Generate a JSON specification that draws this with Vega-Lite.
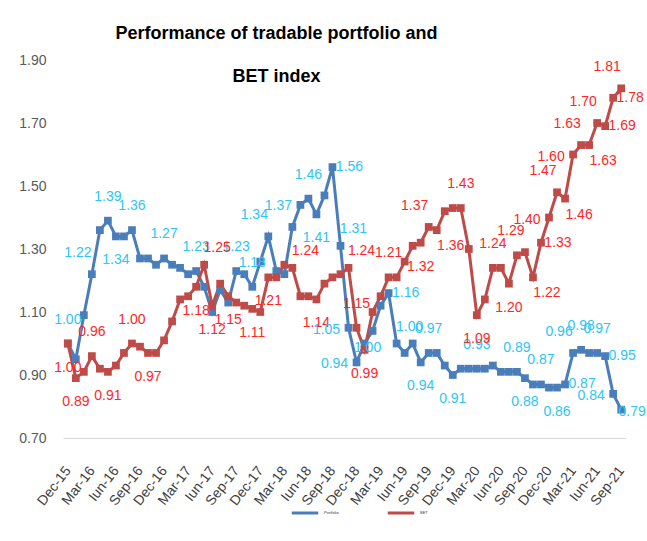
{
  "$schema": "https://vega.github.io/schema/vega-lite/v6.json",
  "width": 563,
  "height": 378,
  "autosize": {"type": "none"},
  "padding": {"left": 63, "top": 60, "right": 21, "bottom": 103},
  "background": "white",
  "config": {"view": {"stroke": null}},
  "title": {
    "text": ["Performance of tradable portfolio and", "BET index"],
    "font": "Liberation Sans",
    "fontWeight": "bold",
    "fontSize": 18,
    "color": "black",
    "lineHeight": 43,
    "anchor": "middle",
    "frame": "group",
    "dx": -68,
    "dy": 33,
    "offset": 0
  },
  "datasets": {
    "series": [
      {"month": "Dec-15", "series": "Portfolio", "value": 1.00, "label": "1.00"},
      {"month": "Ian-16", "series": "Portfolio", "value": 0.95},
      {"month": "Feb-16", "series": "Portfolio", "value": 1.09},
      {"month": "Mar-16", "series": "Portfolio", "value": 1.22, "label": "1.22"},
      {"month": "Apr-16", "series": "Portfolio", "value": 1.36},
      {"month": "Mai-16", "series": "Portfolio", "value": 1.39, "label": "1.39"},
      {"month": "Iun-16", "series": "Portfolio", "value": 1.34, "label": "1.34"},
      {"month": "Iul-16", "series": "Portfolio", "value": 1.34},
      {"month": "Aug-16", "series": "Portfolio", "value": 1.36, "label": "1.36"},
      {"month": "Sep-16", "series": "Portfolio", "value": 1.27},
      {"month": "Oct-16", "series": "Portfolio", "value": 1.27},
      {"month": "Noi-16", "series": "Portfolio", "value": 1.25},
      {"month": "Dec-16", "series": "Portfolio", "value": 1.27, "label": "1.27"},
      {"month": "Ian-17", "series": "Portfolio", "value": 1.25},
      {"month": "Feb-17", "series": "Portfolio", "value": 1.24},
      {"month": "Mar-17", "series": "Portfolio", "value": 1.22},
      {"month": "Apr-17", "series": "Portfolio", "value": 1.23, "label": "1.23"},
      {"month": "Mai-17", "series": "Portfolio", "value": 1.18},
      {"month": "Iun-17", "series": "Portfolio", "value": 1.10},
      {"month": "Iul-17", "series": "Portfolio", "value": 1.17},
      {"month": "Aug-17", "series": "Portfolio", "value": 1.13},
      {"month": "Sep-17", "series": "Portfolio", "value": 1.23, "label": "1.23"},
      {"month": "Oct-17", "series": "Portfolio", "value": 1.22},
      {"month": "Noi-17", "series": "Portfolio", "value": 1.18, "label": "1.18"},
      {"month": "Dec-17", "series": "Portfolio", "value": 1.26},
      {"month": "Ian-18", "series": "Portfolio", "value": 1.34, "label": "1.34"},
      {"month": "Feb-18", "series": "Portfolio", "value": 1.23},
      {"month": "Mar-18", "series": "Portfolio", "value": 1.22},
      {"month": "Apr-18", "series": "Portfolio", "value": 1.37, "label": "1.37"},
      {"month": "Mai-18", "series": "Portfolio", "value": 1.44},
      {"month": "Iun-18", "series": "Portfolio", "value": 1.46, "label": "1.46"},
      {"month": "Iul-18", "series": "Portfolio", "value": 1.41, "label": "1.41"},
      {"month": "Aug-18", "series": "Portfolio", "value": 1.47},
      {"month": "Sep-18", "series": "Portfolio", "value": 1.56, "label": "1.56"},
      {"month": "Oct-18", "series": "Portfolio", "value": 1.31, "label": "1.31"},
      {"month": "Noi-18", "series": "Portfolio", "value": 1.05, "label": "1.05"},
      {"month": "Dec-18", "series": "Portfolio", "value": 0.94, "label": "0.94"},
      {"month": "Ian-19", "series": "Portfolio", "value": 1.00, "label": "1.00"},
      {"month": "Feb-19", "series": "Portfolio", "value": 1.04},
      {"month": "Mar-19", "series": "Portfolio", "value": 1.12},
      {"month": "Apr-19", "series": "Portfolio", "value": 1.16, "label": "1.16"},
      {"month": "Mai-19", "series": "Portfolio", "value": 1.00, "label": "1.00"},
      {"month": "Iun-19", "series": "Portfolio", "value": 0.97},
      {"month": "Iul-19", "series": "Portfolio", "value": 1.00},
      {"month": "Aug-19", "series": "Portfolio", "value": 0.94, "label": "0.94"},
      {"month": "Sep-19", "series": "Portfolio", "value": 0.97, "label": "0.97"},
      {"month": "Oct-19", "series": "Portfolio", "value": 0.97},
      {"month": "Noi-19", "series": "Portfolio", "value": 0.93},
      {"month": "Dec-19", "series": "Portfolio", "value": 0.90, "label": "0.91"},
      {"month": "Ian-20", "series": "Portfolio", "value": 0.92},
      {"month": "Feb-20", "series": "Portfolio", "value": 0.92},
      {"month": "Mar-20", "series": "Portfolio", "value": 0.92, "label": "0.93"},
      {"month": "Apr-20", "series": "Portfolio", "value": 0.92},
      {"month": "Mai-20", "series": "Portfolio", "value": 0.93},
      {"month": "Iun-20", "series": "Portfolio", "value": 0.91},
      {"month": "Iul-20", "series": "Portfolio", "value": 0.91},
      {"month": "Aug-20", "series": "Portfolio", "value": 0.91, "label": "0.89"},
      {"month": "Sep-20", "series": "Portfolio", "value": 0.89, "label": "0.88"},
      {"month": "Oct-20", "series": "Portfolio", "value": 0.87},
      {"month": "Noi-20", "series": "Portfolio", "value": 0.87, "label": "0.87"},
      {"month": "Dec-20", "series": "Portfolio", "value": 0.86},
      {"month": "Ian-21", "series": "Portfolio", "value": 0.86, "label": "0.86"},
      {"month": "Feb-21", "series": "Portfolio", "value": 0.87, "label": "0.87"},
      {"month": "Mar-21", "series": "Portfolio", "value": 0.97, "label": "0.96"},
      {"month": "Apr-21", "series": "Portfolio", "value": 0.98, "label": "0.98"},
      {"month": "Mai-21", "series": "Portfolio", "value": 0.97},
      {"month": "Iun-21", "series": "Portfolio", "value": 0.97, "label": "0.97"},
      {"month": "Iul-21", "series": "Portfolio", "value": 0.96, "label": "0.95"},
      {"month": "Aug-21", "series": "Portfolio", "value": 0.84, "label": "0.84"},
      {"month": "Sep-21", "series": "Portfolio", "value": 0.79, "label": "0.79"},
      {"month": "Dec-15", "series": "BET", "value": 1.00, "label": "1.00"},
      {"month": "Ian-16", "series": "BET", "value": 0.89, "label": "0.89"},
      {"month": "Feb-16", "series": "BET", "value": 0.91},
      {"month": "Mar-16", "series": "BET", "value": 0.96, "label": "0.96"},
      {"month": "Apr-16", "series": "BET", "value": 0.92},
      {"month": "Mai-16", "series": "BET", "value": 0.91, "label": "0.91"},
      {"month": "Iun-16", "series": "BET", "value": 0.93},
      {"month": "Iul-16", "series": "BET", "value": 0.97},
      {"month": "Aug-16", "series": "BET", "value": 1.00, "label": "1.00"},
      {"month": "Sep-16", "series": "BET", "value": 0.99},
      {"month": "Oct-16", "series": "BET", "value": 0.97, "label": "0.97"},
      {"month": "Noi-16", "series": "BET", "value": 0.97},
      {"month": "Dec-16", "series": "BET", "value": 1.01},
      {"month": "Ian-17", "series": "BET", "value": 1.07},
      {"month": "Feb-17", "series": "BET", "value": 1.14},
      {"month": "Mar-17", "series": "BET", "value": 1.15},
      {"month": "Apr-17", "series": "BET", "value": 1.18, "label": "1.18"},
      {"month": "Mai-17", "series": "BET", "value": 1.25, "label": "1.25"},
      {"month": "Iun-17", "series": "BET", "value": 1.12, "label": "1.12"},
      {"month": "Iul-17", "series": "BET", "value": 1.19},
      {"month": "Aug-17", "series": "BET", "value": 1.15, "label": "1.15"},
      {"month": "Sep-17", "series": "BET", "value": 1.13},
      {"month": "Oct-17", "series": "BET", "value": 1.12},
      {"month": "Noi-17", "series": "BET", "value": 1.11, "label": "1.11"},
      {"month": "Dec-17", "series": "BET", "value": 1.10},
      {"month": "Ian-18", "series": "BET", "value": 1.21, "label": "1.21"},
      {"month": "Feb-18", "series": "BET", "value": 1.21},
      {"month": "Mar-18", "series": "BET", "value": 1.25},
      {"month": "Apr-18", "series": "BET", "value": 1.24, "label": "1.24"},
      {"month": "Mai-18", "series": "BET", "value": 1.15},
      {"month": "Iun-18", "series": "BET", "value": 1.15},
      {"month": "Iul-18", "series": "BET", "value": 1.14, "label": "1.14"},
      {"month": "Aug-18", "series": "BET", "value": 1.19},
      {"month": "Sep-18", "series": "BET", "value": 1.21},
      {"month": "Oct-18", "series": "BET", "value": 1.22},
      {"month": "Noi-18", "series": "BET", "value": 1.24, "label": "1.24"},
      {"month": "Dec-18", "series": "BET", "value": 1.05, "label": "1.15"},
      {"month": "Ian-19", "series": "BET", "value": 0.98, "label": "0.99"},
      {"month": "Feb-19", "series": "BET", "value": 1.10},
      {"month": "Mar-19", "series": "BET", "value": 1.15},
      {"month": "Apr-19", "series": "BET", "value": 1.21, "label": "1.21"},
      {"month": "Mai-19", "series": "BET", "value": 1.21},
      {"month": "Iun-19", "series": "BET", "value": 1.26},
      {"month": "Iul-19", "series": "BET", "value": 1.31},
      {"month": "Aug-19", "series": "BET", "value": 1.32, "label": "1.32"},
      {"month": "Sep-19", "series": "BET", "value": 1.37, "label": "1.37"},
      {"month": "Oct-19", "series": "BET", "value": 1.36, "label": "1.36"},
      {"month": "Noi-19", "series": "BET", "value": 1.42},
      {"month": "Dec-19", "series": "BET", "value": 1.43},
      {"month": "Ian-20", "series": "BET", "value": 1.43, "label": "1.43"},
      {"month": "Feb-20", "series": "BET", "value": 1.30},
      {"month": "Mar-20", "series": "BET", "value": 1.09, "label": "1.09"},
      {"month": "Apr-20", "series": "BET", "value": 1.14},
      {"month": "Mai-20", "series": "BET", "value": 1.24, "label": "1.24"},
      {"month": "Iun-20", "series": "BET", "value": 1.24},
      {"month": "Iul-20", "series": "BET", "value": 1.19, "label": "1.20"},
      {"month": "Aug-20", "series": "BET", "value": 1.28},
      {"month": "Sep-20", "series": "BET", "value": 1.29, "label": "1.29"},
      {"month": "Oct-20", "series": "BET", "value": 1.21, "label": "1.22"},
      {"month": "Noi-20", "series": "BET", "value": 1.32, "label": "1.33"},
      {"month": "Dec-20", "series": "BET", "value": 1.40, "label": "1.40"},
      {"month": "Ian-21", "series": "BET", "value": 1.48, "label": "1.47"},
      {"month": "Feb-21", "series": "BET", "value": 1.46, "label": "1.46"},
      {"month": "Mar-21", "series": "BET", "value": 1.60, "label": "1.60"},
      {"month": "Apr-21", "series": "BET", "value": 1.63, "label": "1.63"},
      {"month": "Mai-21", "series": "BET", "value": 1.63, "label": "1.63"},
      {"month": "Iun-21", "series": "BET", "value": 1.70, "label": "1.70"},
      {"month": "Iul-21", "series": "BET", "value": 1.69, "label": "1.69"},
      {"month": "Aug-21", "series": "BET", "value": 1.78, "label": "1.78"},
      {"month": "Sep-21", "series": "BET", "value": 1.81, "label": "1.81"}
    ]
  },
  "data": {"name": "series"},
  "encoding": {
    "x": {
      "field": "month",
      "type": "ordinal",
      "scale": {
        "type": "point",
        "padding": 0.6,
        "domain": ["Dec-15","Ian-16","Feb-16","Mar-16","Apr-16","Mai-16","Iun-16","Iul-16","Aug-16","Sep-16","Oct-16","Noi-16","Dec-16","Ian-17","Feb-17","Mar-17","Apr-17","Mai-17","Iun-17","Iul-17","Aug-17","Sep-17","Oct-17","Noi-17","Dec-17","Ian-18","Feb-18","Mar-18","Apr-18","Mai-18","Iun-18","Iul-18","Aug-18","Sep-18","Oct-18","Noi-18","Dec-18","Ian-19","Feb-19","Mar-19","Apr-19","Mai-19","Iun-19","Iul-19","Aug-19","Sep-19","Oct-19","Noi-19","Dec-19","Ian-20","Feb-20","Mar-20","Apr-20","Mai-20","Iun-20","Iul-20","Aug-20","Sep-20","Oct-20","Noi-20","Dec-20","Ian-21","Feb-21","Mar-21","Apr-21","Mai-21","Iun-21","Iul-21","Aug-21","Sep-21"]
      },
      "axis": {
        "values": ["Dec-15","Mar-16","Iun-16","Sep-16","Dec-16","Mar-17","Iun-17","Sep-17","Dec-17","Mar-18","Iun-18","Sep-18","Dec-18","Mar-19","Iun-19","Sep-19","Dec-19","Mar-20","Iun-20","Sep-20","Dec-20","Mar-21","Iun-21","Sep-21"],
        "title": null,
        "labelAngle": -52,
        "labelAlign": "right",
        "labelBaseline": "middle",
        "labelFont": "Liberation Sans",
        "labelFontSize": 14,
        "labelColor": "#404040",
        "labelPadding": 30,
        "ticks": false,
        "grid": false,
        "domain": true,
        "domainColor": "#D9D9D9",
        "domainWidth": 1
      }
    },
    "y": {
      "field": "value",
      "type": "quantitative",
      "scale": {"domain": [0.7, 1.9], "nice": false, "zero": false},
      "axis": {
        "values": [0.7, 0.9, 1.1, 1.3, 1.5, 1.7, 1.9],
        "format": ".2f",
        "title": null,
        "grid": false,
        "domain": false,
        "ticks": false,
        "labelPadding": 17,
        "labelFont": "Liberation Sans",
        "labelFontSize": 14,
        "labelColor": "#595959"
      }
    }
  },
  "layer": [
    {
      "mark": {"type": "line", "strokeWidth": 3},
      "encoding": {
        "color": {
          "field": "series",
          "type": "nominal",
          "scale": {"domain": ["Portfolio", "BET"], "range": ["#4A7EBB", "#BE4B48"]},
          "legend": {
            "orient": "none",
            "legendX": 227,
            "legendY": 438,
            "direction": "horizontal",
            "title": null,
            "symbolType": "stroke",
            "symbolStrokeWidth": 3,
            "symbolSize": 700,
            "labelFontSize": 4,
            "labelColor": "#404040",
            "columnPadding": 42
          }
        }
      }
    },
    {
      "mark": {"type": "point", "shape": "square", "filled": true, "size": 60, "opacity": 1},
      "encoding": {
        "color": {"field": "series", "type": "nominal", "scale": {"domain": ["Portfolio", "BET"], "range": ["#4A7EBB", "#BE4B48"]}, "legend": null}
      }
    },
    {
      "transform": [{"filter": "isValid(datum.label)"}],
      "encoding": {
        "text": {"field": "label"},
        "fill": {"field": "series", "type": "nominal", "scale": {"domain": ["Portfolio", "BET"], "range": ["#2EC5F5", "#FF2626"]}, "legend": null}
      },
      "layer": [
        {
          "transform": [{"filter": "indexof(['Portfolio|Dec-15','Portfolio|Mai-16','Portfolio|Aug-16','Portfolio|Dec-16','Portfolio|Apr-17','Portfolio|Sep-17','Portfolio|Noi-17','Portfolio|Iun-18','Portfolio|Sep-19','Portfolio|Mar-20','Portfolio|Aug-20','Portfolio|Noi-20','Portfolio|Apr-21','Portfolio|Iun-21','BET|Mar-16','BET|Aug-16','BET|Dec-18','BET|Apr-19','BET|Ian-20','BET|Mai-20'], datum.series + '|' + datum.month) >= 0"}],
          "mark": {"type": "text", "dy": -24, "font": "Liberation Sans", "fontSize": 14}
        },
        {
          "transform": [{"filter": "indexof(['Portfolio|Iun-16','Portfolio|Iul-18','Portfolio|Aug-19','Portfolio|Dec-19','Portfolio|Sep-20','Portfolio|Ian-21','BET|Dec-15','BET|Ian-16','BET|Mai-16','BET|Oct-16','BET|Apr-17','BET|Iun-17','BET|Aug-17','BET|Noi-17','BET|Ian-18','BET|Iul-18','BET|Ian-19','BET|Aug-19','BET|Mar-20','BET|Iul-20'], datum.series + '|' + datum.month) >= 0"}],
          "mark": {"type": "text", "dy": 24, "font": "Liberation Sans", "fontSize": 14}
        },
        {
          "transform": [{"filter": "indexof(['Portfolio|Mar-16','Portfolio|Ian-18','Portfolio|Apr-18','Portfolio|Mar-21','BET|Sep-19','BET|Sep-20','BET|Ian-21','BET|Apr-21','BET|Iun-21','BET|Sep-21'], datum.series + '|' + datum.month) >= 0"}],
          "mark": {"type": "text", "dx": -14, "dy": -21, "font": "Liberation Sans", "fontSize": 14}
        },
        {
          "transform": [{"filter": "indexof(['Portfolio|Oct-18','Portfolio|Mai-19','BET|Mai-17','BET|Apr-18','BET|Noi-18'], datum.series + '|' + datum.month) >= 0"}],
          "mark": {"type": "text", "dx": 13, "dy": -17, "font": "Liberation Sans", "fontSize": 14}
        },
        {
          "transform": [{"filter": "indexof(['BET|Oct-19','BET|Oct-20','BET|Feb-21','BET|Mai-21'], datum.series + '|' + datum.month) >= 0"}],
          "mark": {"type": "text", "dx": 14, "dy": 16, "font": "Liberation Sans", "fontSize": 14}
        },
        {
          "transform": [{"filter": "indexof(['Portfolio|Sep-18','Portfolio|Apr-19','Portfolio|Feb-21','Portfolio|Iul-21','BET|Noi-20','BET|Iul-21','BET|Aug-21'], datum.series + '|' + datum.month) >= 0"}],
          "mark": {"type": "text", "dx": 17, "dy": 0, "font": "Liberation Sans", "fontSize": 14}
        },
        {
          "transform": [{"filter": "indexof(['Portfolio|Sep-21'], datum.series + '|' + datum.month) >= 0"}],
          "mark": {"type": "text", "dx": 11, "dy": 2, "font": "Liberation Sans", "fontSize": 14}
        },
        {
          "transform": [{"filter": "indexof(['Portfolio|Noi-18','Portfolio|Dec-18','Portfolio|Aug-21','BET|Dec-20','BET|Mar-21'], datum.series + '|' + datum.month) >= 0"}],
          "mark": {"type": "text", "dx": -22, "dy": 2, "font": "Liberation Sans", "fontSize": 14}
        },
        {
          "transform": [{"filter": "indexof(['Portfolio|Ian-19'], datum.series + '|' + datum.month) >= 0"}],
          "mark": {"type": "text", "dx": 3, "dy": 4, "font": "Liberation Sans", "fontSize": 14}
        }
      ]
    }
  ]
}
